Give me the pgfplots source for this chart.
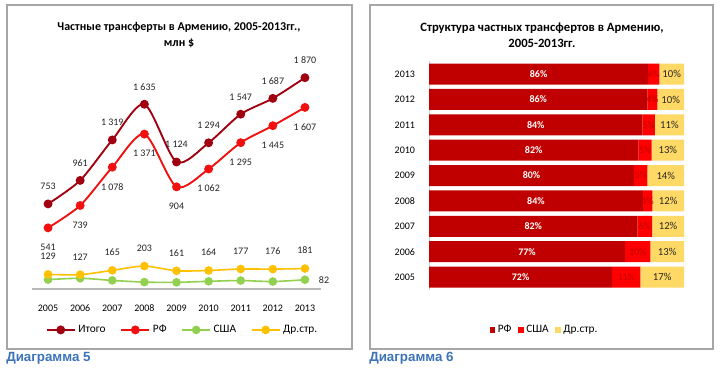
\documentclass[border=0pt]{standalone}
\usepackage{pgfplots}
\usepackage{pgfplotstable}
\pgfplotsset{compat=1.18}
\usepackage{fontspec}
\setmainfont{Carlito}
\newfontfamily\capfont{Liberation Sans}
\definecolor{itogo}{HTML}{A00010}
\definecolor{rf}{HTML}{F01010}
\definecolor{usa}{HTML}{92D050}
\definecolor{dr}{HTML}{FFC000}
\definecolor{barrf}{HTML}{C00000}
\definecolor{barusa}{HTML}{FF0000}
\definecolor{bardr}{HTML}{FFD966}
\definecolor{capblue}{HTML}{3D74B7}
\definecolor{framegray}{HTML}{A6A6A6}

\pgfplotstableread{
year itogo rf usa dr
2005 753 541 83 129
2006 961 739 95 127
2007 1319 1078 76 165
2008 1635 1371 61 203
2009 1124 904 59 161
2010 1294 1062 68 164
2011 1547 1295 75 177
2012 1687 1445 66 176
2013 1870 1607 82 181
}\linedata

\pgfplotstableread{
year rf usa dr
2005 71.85 11.02 17.13
2006 76.90 9.89 13.21
2007 81.73 5.76 12.51
2008 83.85 3.73 12.42
2009 80.43 5.25 14.32
2010 82.07 5.26 12.67
2011 83.71 4.85 11.44
2012 85.65 3.91 10.44
2013 85.94 4.39 9.67
}\bardata

\pgfplotstableread{
year rfc rfl usac usal drc drl
2005 35.93 72 77.36 11 91.44 17
2006 38.45 77 81.85 10 93.39 13
2007 40.87 82 84.61 6 93.75 12
2008 41.93 84 85.71 4 93.79 12
2009 40.22 80 83.06 5 92.84 14
2010 41.04 82 84.70 5 93.67 13
2011 41.86 84 86.28 5 94.28 11
2012 42.83 86 87.61 4 94.78 10
2013 42.97 86 88.14 4 95.17 10
}\barlabels

\begin{document}
\begin{tikzpicture}
\useasboundingbox (0,0) rectangle (540pt,279pt);
\fill[white] (0,0) rectangle (540pt,279pt);
\draw[framegray, line width=0.8pt] (5.25pt,17.25pt) rectangle (264pt,275.25pt);
\draw[framegray, line width=0.8pt] (277.5pt,17.25pt) rectangle (534.75pt,275.25pt);

% ---------- left chart ----------
\begin{axis}[
  at={(24pt,62.25pt)}, anchor=south west, scale only axis,
  width=216.75pt, height=169.5pt,
  xmin=2004.5, xmax=2013.5, ymin=0, ymax=2000,
  axis x line*=bottom, axis y line=none,
  x axis line style={gray!55, line width=0.8pt, -},
  xtick={2005,2006,2007,2008,2009,2010,2011,2012,2013},
  xticklabels={2005,2006,2007,2008,2009,2010,2011,2012,2013},
  major tick length=0pt,
  x tick label style={font=\fontsize{7.5}{8}\selectfont, text height=5.2pt, text depth=0pt, yshift=-8pt},
  clip=false,
  /pgf/number format/assume math mode=true,
  /pgf/number format/fixed, /pgf/number format/precision=0,
  /pgf/number format/1000 sep={\ },
  legend style={draw=none, at={(0.522,-0.181)}, anchor=center,
    font=\fontsize{8.5}{9}\selectfont,
    /tikz/every even column/.append style={column sep=9pt}},
  legend columns=-1,
  legend image code/.code={\draw[mark repeat=2,mark phase=2] plot coordinates {(0cm,0cm) (0.37cm,0cm) (0.74cm,0cm)};},
]
\addplot[itogo, line width=1.4pt, smooth, tension=0.45, mark=*, mark size=2.6pt,
  mark options={fill=itogo, draw=itogo},
  nodes near coords,
  every node near coord/.append style={text=black!85, font=\fontsize{7.5}{8}\selectfont, yshift=6.5pt}]
  table[x=year,y=itogo]{\linedata};
\addlegendentry{Итого}
\addplot[rf, line width=1.4pt, smooth, tension=0.45, mark=*, mark size=2.6pt,
  mark options={fill=rf, draw=rf},
  nodes near coords,
  every node near coord/.append style={text=black!85, font=\fontsize{7.5}{8}\selectfont, anchor=north, yshift=-8pt}]
  table[x=year,y=rf]{\linedata};
\addlegendentry{РФ}
\addplot[usa, line width=1.2pt, smooth, tension=0.45, mark=*, mark size=2.6pt,
  mark options={fill=usa, draw=usa}]
  table[x=year,y=usa]{\linedata};
\addlegendentry{США}
\addplot[dr, line width=1.2pt, smooth, tension=0.45, mark=*, mark size=2.6pt,
  mark options={fill=dr, draw=dr},
  nodes near coords,
  every node near coord/.append style={text=black!85, font=\fontsize{7.5}{8}\selectfont, yshift=7pt}]
  table[x=year,y=dr]{\linedata};
\addlegendentry{Др.стр.}
\addplot[draw=none, forget plot, nodes near coords,
  every node near coord/.append style={text=black!85, font=\fontsize{7.5}{8}\selectfont, anchor=west, xshift=7pt}]
  coordinates {(2013,82)};
\end{axis}

\node[align=center, font=\bfseries\fontsize{9}{12}\selectfont] at (134.25pt,252.75pt)
  {Частные трансферты в Армению, 2005-2013гг.,\\млн \$};

% ---------- right chart ----------
\begin{axis}[
  at={(321.75pt,61.7pt)}, anchor=south west, scale only axis,
  width=191.25pt, height=171.3pt,
  xbar stacked, bar width=15.75pt,
  xmin=0, xmax=100, ymin=2004.5, ymax=2013.5,
  axis x line=none, axis y line*=left,
  y axis line style={gray!40, line width=0.6pt, -},
  ytick={2005,2006,2007,2008,2009,2010,2011,2012,2013},
  yticklabels={2005,2006,2007,2008,2009,2010,2011,2012,2013},
  major tick length=0pt,
  y tick label style={font=\fontsize{7.5}{8}\selectfont, xshift=-7pt},
  clip=false,
  legend style={draw=none, at={(0.455,-0.176)}, anchor=center,
    font=\fontsize{8.5}{9}\selectfont,
    /tikz/every even column/.append style={column sep=3pt}},
  legend columns=-1,
  legend image code/.code={\fill[#1] (0pt,-2pt) rectangle (4pt,2pt);},
]
\addplot[fill=barrf, draw=none] table[x=rf,y=year]{\bardata};
\addlegendentry{РФ}
\addplot[fill=barusa, draw=none] table[x=usa,y=year]{\bardata};
\addlegendentry{США}
\addplot[fill=bardr, draw=none] table[x=dr,y=year]{\bardata};
\addlegendentry{Др.стр.}
\end{axis}

\begin{axis}[
  at={(321.75pt,61.7pt)}, anchor=south west, scale only axis,
  width=191.25pt, height=171.3pt,
  xmin=0, xmax=100, ymin=2004.5, ymax=2013.5,
  hide axis, clip=false,
  point meta=explicit symbolic,
  nodes near coords={\pgfplotspointmeta\%},
]
\addplot[draw=none, every node near coord/.append style={anchor=center, text=white, font=\bfseries\fontsize{7.5}{8}\selectfont}]
  table[x=rfc,y=year,meta=rfl]{\barlabels};
\addplot[draw=none, every node near coord/.append style={anchor=center, text=barrf, font=\fontsize{7.5}{8}\selectfont}]
  table[x=usac,y=year,meta=usal]{\barlabels};
\addplot[draw=none, every node near coord/.append style={anchor=center, text=black!85, font=\fontsize{8}{8}\selectfont}]
  table[x=drc,y=year,meta=drl]{\barlabels};
\end{axis}

\node[align=center, font=\bfseries\fontsize{9.5}{12}\selectfont] at (406.5pt,252.75pt)
  {Структура частных трансфертов в Армению,\\2005-2013гг.};

% captions
\node[anchor=west, inner sep=0pt, font=\capfont\bfseries\fontsize{10}{12}\selectfont, text=capblue] at (4.5pt,10.5pt) {Диаграмма 5};
\node[anchor=west, inner sep=0pt, font=\capfont\bfseries\fontsize{10}{12}\selectfont, text=capblue] at (276.75pt,10.5pt) {Диаграмма 6};
\end{tikzpicture}
\end{document}
